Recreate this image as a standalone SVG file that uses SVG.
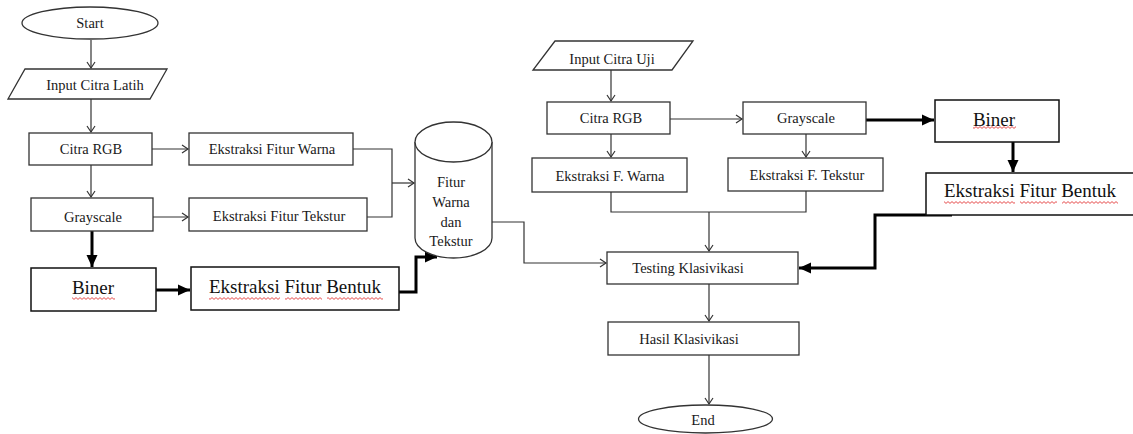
<svg xmlns="http://www.w3.org/2000/svg" width="1133" height="434" viewBox="0 0 1133 434">
<style>
.bx{fill:#fff;stroke:#333;stroke-width:1.3}
.bk{fill:#fff;stroke:#111;stroke-width:1.5}
.t{font-family:"Liberation Serif","Times New Roman",serif;font-size:14.5px;fill:#1a1a1a;text-anchor:middle;dominant-baseline:central}
.tl{font-family:"Liberation Serif","Times New Roman",serif;font-size:19px;fill:#111;text-anchor:middle;dominant-baseline:central}
.thin{fill:none;stroke:#333;stroke-width:1.2}
.thick{fill:none;stroke:#000;stroke-width:3}
.sq{fill:url(#sq)}
</style>
<defs>
<marker id="ao" markerUnits="userSpaceOnUse" markerWidth="12" markerHeight="12" refX="7" refY="5" orient="auto">
<path d="M1,1 L7,5 L1,9" fill="none" stroke="#333" stroke-width="1.2"/>
</marker>
<marker id="af" markerUnits="userSpaceOnUse" markerWidth="14" markerHeight="14" refX="12" refY="6" orient="auto">
<path d="M0,0.5 L12,6 L0,11.5 Z" fill="#000"/>
</marker>
<pattern id="sq" width="4" height="3" patternUnits="userSpaceOnUse">
<path d="M0,0.6 L2,2.4 L4,0.6" fill="none" stroke="#e02020" stroke-width="0.8"/>
</pattern>
</defs>

<g id="connectors">
<path class="thin" d="M91,40 V68" marker-end="url(#ao)"/>
<path class="thin" d="M91,99 V132" marker-end="url(#ao)"/>
<path class="thin" d="M152,149 H188" marker-end="url(#ao)"/>
<path class="thin" d="M91,165 V197" marker-end="url(#ao)"/>
<path class="thin" d="M153,217 H188" marker-end="url(#ao)"/>
<path class="thin" d="M353,149 H392 V217 H367"/>
<path class="thin" d="M392,183 H414" marker-end="url(#ao)"/>
<path class="thick" d="M92,231 V267" marker-end="url(#af)"/>
<path class="thick" d="M156,290 H190" marker-end="url(#af)"/>
<path class="thick" d="M398,292 H416 V257 H437" marker-end="url(#af)"/>
<path class="thin" d="M492,222 H524 V263 H606" marker-end="url(#ao)"/>
<path class="thin" d="M611,70 V101" marker-end="url(#ao)"/>
<path class="thin" d="M670,119 H742" marker-end="url(#ao)"/>
<path class="thin" d="M611,134 V157" marker-end="url(#ao)"/>
<path class="thin" d="M806,134 V157" marker-end="url(#ao)"/>
<path class="thin" d="M611,192 V212 H806 V191"/>
<path class="thin" d="M709,212 V251" marker-end="url(#ao)"/>
<path class="thick" d="M866,120 H934" marker-end="url(#af)"/>
<path class="thick" d="M1013,142 V172" marker-end="url(#af)"/>
<path class="thick" d="M952,215 H875 V268 H799" marker-end="url(#af)"/>
<path class="thin" d="M709,284 V321" marker-end="url(#ao)"/>
<path class="thin" d="M709,355 V404" marker-end="url(#ao)"/>
</g>

<g id="start"><ellipse class="bx" cx="90" cy="23" rx="68" ry="16"/><text class="t" x="90" y="23">Start</text></g>
<g id="input-latih"><polygon class="bx" points="25,69 167,69 150,99 8,99"/><text class="t" x="95" y="85">Input Citra Latih</text></g>
<g id="citra-rgb-l"><rect class="bx" x="29" y="133" width="123" height="32"/><text class="t" x="91" y="149">Citra RGB</text></g>
<g id="ekstraksi-warna-l"><rect class="bx" x="189" y="133" width="164" height="32"/><text class="t" x="272" y="149">Ekstraksi Fitur Warna</text></g>
<g id="grayscale-l"><rect class="bx" x="31" y="198" width="122" height="33"/><text class="t" x="93" y="217">Grayscale</text></g>
<g id="ekstraksi-tekstur-l"><rect class="bx" x="189" y="198" width="178" height="33"/><text class="t" x="279" y="216">Ekstraksi Fitur Tekstur</text></g>
<g id="biner-l"><rect class="bk" x="31" y="268" width="125" height="43"/><text class="tl" x="93" y="287">Biner</text><rect class="sq" x="72" y="297" width="43" height="3"/></g>
<g id="bentuk-l"><rect class="bk" x="191" y="267" width="208" height="43"/><text class="tl" x="295" y="286">Ekstraksi Fitur Bentuk</text><rect class="sq" x="209" y="297" width="71" height="3"/><rect class="sq" x="285" y="297" width="37" height="3"/><rect class="sq" x="327" y="297" width="56" height="3"/></g>
<g id="database">
<path class="bx" d="M415,142 V238 A38.5,20 0 0 0 492,238 V142"/>
<ellipse class="bx" cx="453.5" cy="142" rx="38.5" ry="20"/>
<text class="t" x="451" y="182">Fitur</text><text class="t" x="451" y="202">Warna</text><text class="t" x="451" y="222">dan</text><text class="t" x="451" y="241">Tekstur</text>
</g>

<g id="input-uji"><polygon class="bx" points="555,41 693,41 672,70 533,70"/><text class="t" x="612" y="59">Input Citra Uji</text></g>
<g id="citra-rgb-r"><rect class="bx" x="547" y="102" width="123" height="32"/><text class="t" x="611" y="118">Citra RGB</text></g>
<g id="grayscale-r"><rect class="bx" x="743" y="102" width="123" height="32"/><text class="t" x="806" y="118">Grayscale</text></g>
<g id="ekstraksi-warna-r"><rect class="bx" x="532" y="158" width="155" height="34"/><text class="t" x="610" y="176">Ekstraksi F. Warna</text></g>
<g id="ekstraksi-tekstur-r"><rect class="bx" x="728" y="158" width="155" height="33"/><text class="t" x="807" y="175">Ekstraksi F. Tekstur</text></g>
<g id="biner-r"><rect class="bk" x="935" y="100" width="124" height="42"/><text class="tl" x="994" y="119">Biner</text><rect class="sq" x="973" y="126" width="43" height="3"/></g>
<g id="bentuk-r"><rect class="bk" x="926" y="173" width="230" height="42"/><text class="tl" x="1030" y="190">Ekstraksi Fitur Bentuk</text><rect class="sq" x="944" y="201" width="71" height="3"/><rect class="sq" x="1020" y="201" width="37" height="3"/><rect class="sq" x="1062" y="201" width="56" height="3"/></g>
<g id="testing"><rect class="bx" x="607" y="252" width="191" height="32"/><text class="t" x="688" y="268">Testing Klasivikasi</text></g>
<g id="hasil"><rect class="bx" x="608" y="322" width="191" height="33"/><text class="t" x="689" y="339">Hasil Klasivikasi</text></g>
<g id="end"><ellipse class="bx" cx="705.5" cy="419" rx="67" ry="14"/><text class="t" x="703" y="420">End</text></g>
</svg>
